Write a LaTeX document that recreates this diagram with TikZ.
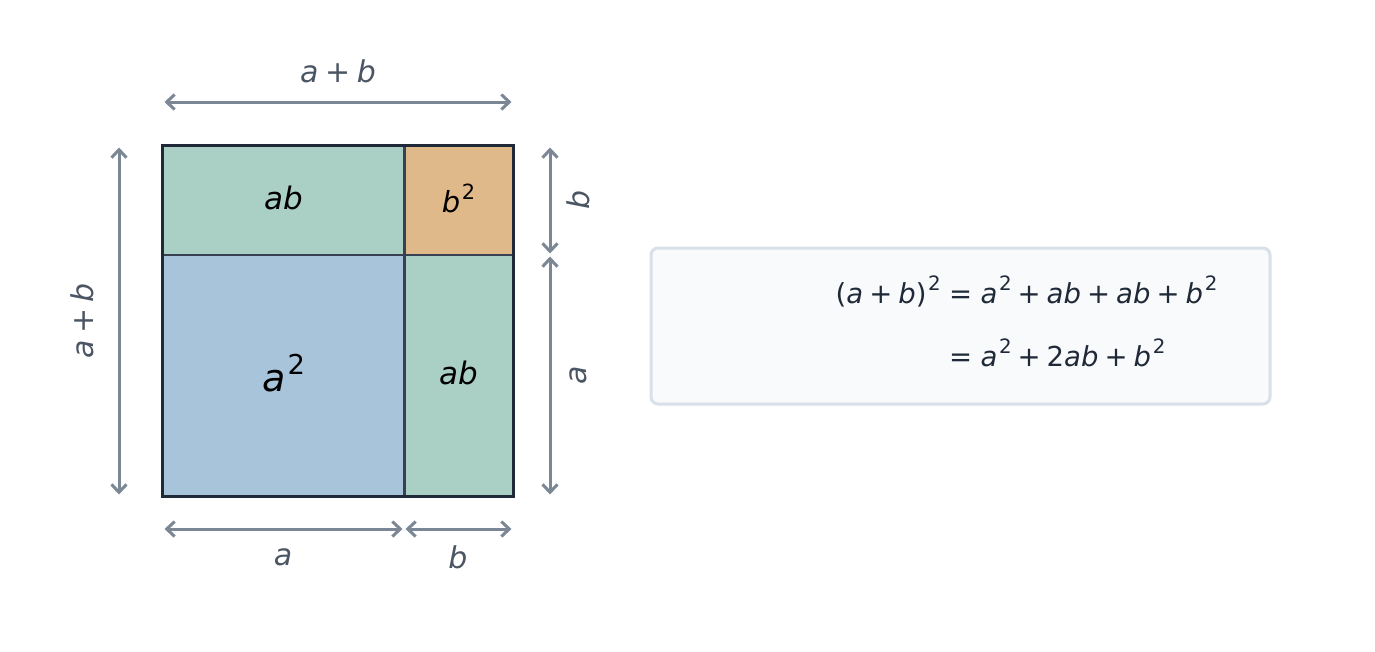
\documentclass[tikz,border=0pt]{standalone}
\usepackage{fontspec}
\usepackage{graphicx}
\setmainfont{DejaVu Sans}
\usetikzlibrary{arrows.meta}
\definecolor{cgreen}{HTML}{AACFC4}
\definecolor{corange}{HTML}{E0B98A}
\definecolor{cblue}{HTML}{A7C4DA}
\definecolor{cborder}{HTML}{1F2937}
\definecolor{cinner}{HTML}{374151}
\definecolor{carrow}{HTML}{7B8794}
\definecolor{clabel}{HTML}{4B5563}
\definecolor{ceq}{HTML}{1F2937}
\definecolor{cboxfill}{HTML}{F8FAFC}
\definecolor{cboxdraw}{HTML}{D8E0EA}
\newcommand\vv[1]{\textit{#1}}
\newcommand\pl{\hspace{0.22em}+\hspace{0.22em}}
\newcommand\sq[1]{\hspace{0.06em}\raisebox{0.45em}{\scalebox{0.72}{#1}}}
\begin{document}
\begin{tikzpicture}[x=1pt,y=-1pt,
  cell/.style={inner sep=0pt, text=black},
  divider/.style={draw=cinner, line width=2.6pt},
  dimarrow/.style={draw=carrow, line width=3pt, {Straight Barb[length=8pt,width=15pt,line width=3pt]}-{Straight Barb[length=8pt,width=15pt,line width=3pt]}, shorten <=1.5pt, shorten >=1.5pt},
  dimlabel/.style={text=clabel, font=\fontsize{30}{35}\selectfont, inner sep=0pt},
  eqtext/.style={text=ceq, font=\fontsize{27.5}{32}\selectfont, inner sep=0pt}]
\useasboundingbox (0,0) rectangle (1375,651);
% cells
\node[cell, fill=cgreen, minimum width=241pt, minimum height=109pt] (tl) at (283.5,200.5) {};
\node[cell, fill=corange, minimum width=109pt, minimum height=109pt] (tr) at (458.5,200.5) {};
\node[cell, fill=cblue, minimum width=241pt, minimum height=241pt] (bl) at (283.5,375.5) {};
\node[cell, fill=cgreen, minimum width=109pt, minimum height=241pt] (br) at (458.5,375.5) {};
\draw[divider] (tl.north east) -- (bl.south east);
\draw[divider] (bl.north west) -- (br.north east);
\node[inner sep=0pt, font=\fontsize{31}{36}\selectfont] (tlt) at (283.5,197.5) {\vv{ab}};
\node[inner sep=0pt, font=\fontsize{29}{34}\selectfont] (trt) at (458.5,198) {\vv{b}\sq{2}};
\node[inner sep=0pt, font=\fontsize{38}{44}\selectfont] (blt) at (283.5,373) {\vv{a}\sq{2}};
\node[inner sep=0pt, font=\fontsize{31}{36}\selectfont] (brt) at (458.5,372.5) {\vv{ab}};
\draw[cborder, line width=3pt] (tl.north west) rectangle (br.south east);
% dimension coordinates
\coordinate (t1) at (163,102); \coordinate (t2) at (513,102);
\coordinate (l1) at (119,146); \coordinate (l2) at (119,496);
\coordinate (r1) at (550,146); \coordinate (r2) at (550,255); \coordinate (r3) at (550,496);
\coordinate (b1) at (163,529); \coordinate (b2) at (404,529); \coordinate (b3) at (513,529);
\draw[dimarrow] (t1) -- (t2);
\draw[dimarrow] (l1) -- (l2);
\draw[dimarrow] (r1) -- (r2);
\draw[dimarrow] (r2) -- (r3);
\draw[dimarrow] (b1) -- (b2);
\draw[dimarrow] (b2) -- (b3);
\node[dimlabel] (lt) at (338,71) {\vv{a}\pl\vv{b}};
\node[dimlabel, rotate=90] (ll) at (82,321) {\vv{a}\pl\vv{b}};
\node[dimlabel, rotate=90] (lrb) at (578,200) {\vv{b}};
\node[dimlabel, rotate=90] (lra) at (578,375) {\vv{a}};
\node[dimlabel] (lba) at (283,557) {\vv{a}};
\node[dimlabel] (lbb) at (458,557) {\vv{b}};
% equation box
\draw[draw=cboxdraw, fill=cboxfill, line width=3pt, rounded corners=7pt] (651,248) rectangle (1270,404);
\node[eqtext, anchor=base east] (e1l) at (941,303) {(\vv{a}\pl\vv{b})\sq{2}};
\node[eqtext, anchor=base west] (e1r) at (949,303) {=\hspace{0.3em}\vv{a}\sq{2}\pl\vv{ab}\pl\vv{ab}\pl\vv{b}\sq{2}};
\node[eqtext, anchor=base west] (e2r) at (949,366) {=\hspace{0.3em}\vv{a}\sq{2}\pl2\vv{ab}\pl\vv{b}\sq{2}};
\end{tikzpicture}
\end{document}
